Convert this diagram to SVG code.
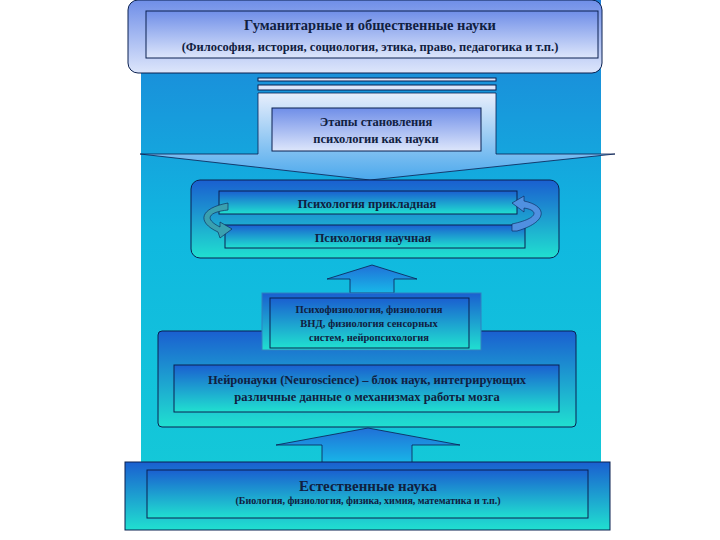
<svg xmlns="http://www.w3.org/2000/svg" width="720" height="540" viewBox="0 0 720 540">
<defs>
<linearGradient id="bg" x1="0" y1="0" x2="0" y2="1"><stop offset="0" stop-color="#1e7fd8"/><stop offset="0.5" stop-color="#10b8e0"/><stop offset="1" stop-color="#14c8d8"/></linearGradient>
<linearGradient id="lav" x1="0" y1="0" x2="0" y2="1"><stop offset="0" stop-color="#6f8ee8"/><stop offset="1" stop-color="#dde6fb"/></linearGradient>
<linearGradient id="bc" x1="0" y1="0" x2="0" y2="1"><stop offset="0" stop-color="#1a5fd0"/><stop offset="1" stop-color="#20e0d0"/></linearGradient>
<linearGradient id="arr" x1="0" y1="0" x2="0" y2="1"><stop offset="0" stop-color="#e8eefc"/><stop offset="1" stop-color="#4aa8ec"/></linearGradient>
<linearGradient id="up" x1="0" y1="0" x2="0" y2="1"><stop offset="0" stop-color="#2070d8"/><stop offset="1" stop-color="#18b8e8"/></linearGradient>
<style>
text{font-family:"Liberation Serif",serif;font-weight:bold;fill:#102040;text-anchor:middle}
.o{stroke:#0a2050;stroke-width:1}
</style>
</defs>
<rect x="141" y="0" width="460" height="466" fill="url(#bg)"/>
<g id="top"><rect x="128" y="0" width="474" height="73" rx="10" fill="url(#lav)" class="o"/>
<rect x="146" y="11" width="452" height="47" fill="url(#lav)" class="o"/>
<text x="370" y="30" font-size="14.5">Гуманитарные  и общественные науки</text>
<text x="370" y="51" font-size="12.5">(Философия, история, социология, этика, право, педагогика и т.п.)</text></g>
<g id="connectors">
<rect x="258" y="78" width="238" height="3" fill="#dde6fb" class="o"/>
<rect x="258" y="85" width="238" height="5" fill="#dde6fb" class="o"/>
<path d="M258,93 H496 V154 H615 L370,180 L140,154 H258 Z" fill="url(#arr)" stroke="#0a2050" stroke-width="0.8"/>
<path d="M372,265 L417,279 H394 V293 H350 V279 H327 Z" fill="url(#up)" stroke="#0a2050" stroke-width="0.8"/>
<path d="M368,428 L460,445 H412 V464 H322 V445 H276 Z" fill="url(#up)" stroke="#0a2050" stroke-width="0.8"/>
</g>
<g id="stages"><rect x="272" y="108" width="209" height="43" fill="url(#lav)" class="o"/>
<text x="376" y="126" font-size="12.5">Этапы становления</text>
<text x="376" y="143" font-size="12.5">психологии как науки</text></g>
<g id="psych"><rect x="191" y="180" width="368" height="78" rx="9" fill="url(#bc)" class="o"/>
<rect x="219" y="191" width="298" height="23" fill="url(#bc)" class="o"/>
<rect x="225" y="225" width="300" height="23" fill="url(#bc)" class="o"/>
<text x="367" y="208" font-size="12.5">Психология прикладная</text>
<text x="373" y="242" font-size="12.5">Психология научная</text>
<path d="M228,203 C200,208 196,222 218,232 L220,238 L232,229 L220,222 L220,227 C204,219 208,212 228,210 Z" fill="#3aa0b0" stroke="#0a2050" stroke-width="0.6"/>
<path d="M512,203 L524,196 L524,201 C548,206 548,222 517,231 L512,231 L512,224 C540,218 538,210 524,208 L524,212 Z" fill="#5090e0" stroke="#0a2050" stroke-width="0.6"/>
</g>
<g id="neuro"><rect x="158" y="331" width="418" height="96" rx="4" fill="url(#bc)" class="o"/>
<rect x="174" y="365" width="385" height="47" fill="url(#bc)" class="o"/>
<text x="367" y="384" font-size="12.5">Нейронауки (Neuroscience) – блок наук, интегрирующих</text>
<text x="367" y="401" font-size="12.5">различные данные о механизмах работы мозга</text></g>
<g id="physio"><rect x="262" y="293" width="219" height="57" fill="url(#bc)" stroke="#3080c0"/>
<rect x="270" y="298" width="199" height="50" fill="url(#bc)" class="o"/>
<text x="369" y="313" font-size="10.5">Психофизиология, физиология</text>
<text x="369" y="327" font-size="10.5">ВНД, физиология сенсорных</text>
<text x="369" y="341" font-size="10.5">систем, нейропсихология</text></g>
<g id="natural"><rect x="125" y="462" width="485" height="68" fill="url(#bc)" class="o"/>
<rect x="147" y="470" width="441" height="48" fill="url(#bc)" class="o"/>
<text x="368" y="491" font-size="15" font-weight="normal">Естественные наука</text>
<text x="368" y="504" font-size="10">(Биология, физиология, физика, химия, математика и т.п.)</text></g>
</svg>
